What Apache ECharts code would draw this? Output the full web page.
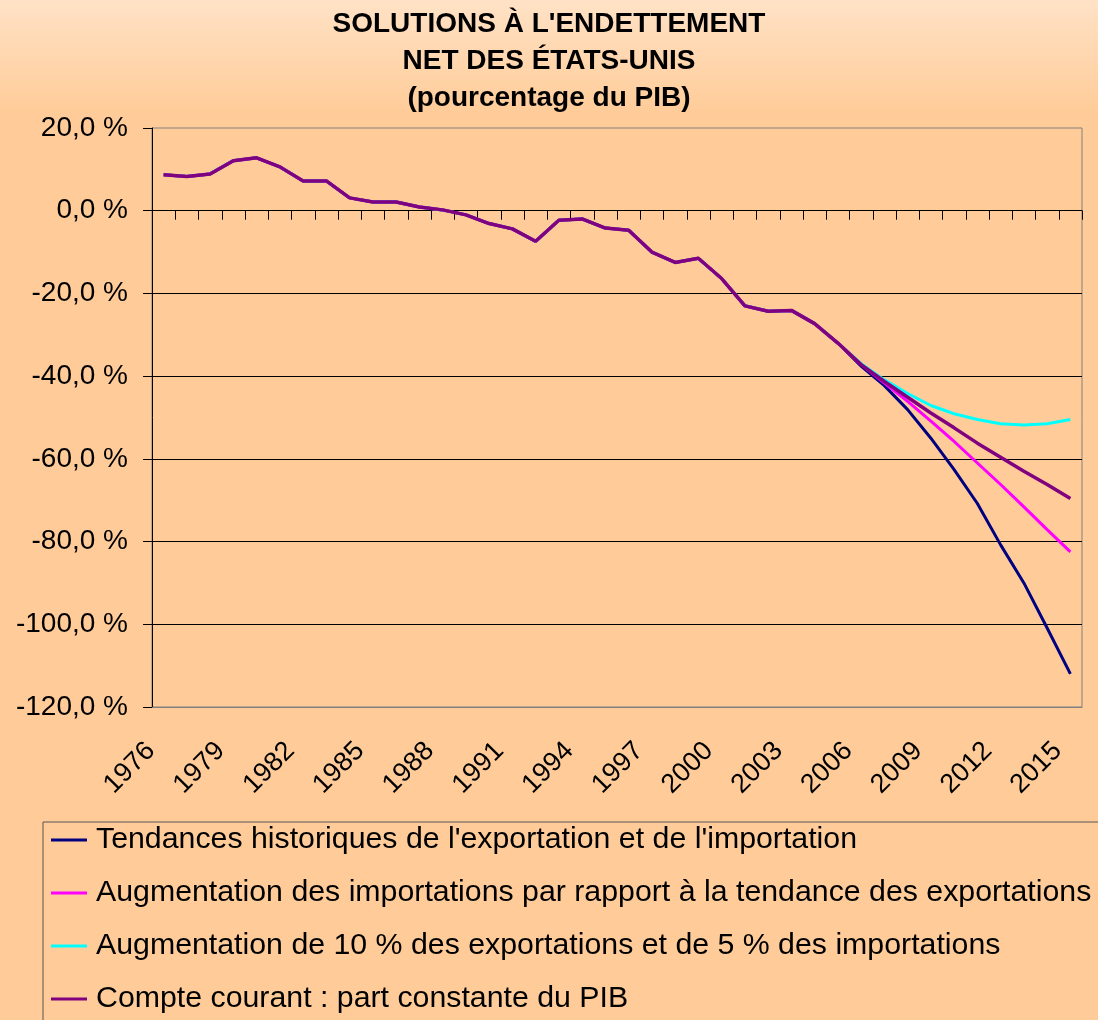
<!DOCTYPE html>
<html>
<head>
<meta charset="utf-8">
<title>Solutions à l'endettement net des États-Unis</title>
<script src="https://cdn.jsdelivr.net/npm/echarts@6/dist/echarts.min.js"></script>
<style>
    html, body { margin: 0; padding: 0; background: #FFCC99; }
    #chart { width: 1098px; height: 1020px; }
</style>
</head>
<body>
<div id="chart"></div>
<script>
// années (axe X)
var years = ['1976','1977','1978','1979','1980','1981','1982','1983','1984','1985',
             '1986','1987','1988','1989','1990','1991','1992','1993','1994','1995',
             '1996','1997','1998','1999','2000','2001','2002','2003','2004','2005',
             '2006','2007','2008','2009','2010','2011','2012','2013','2014','2015'];

// historique commun 1976-2005 (% du PIB)
var historique = [8.7, 8.3, 8.9, 12.1, 12.8, 10.6, 7.2, 7.2, 3.1, 2.1,
                  2.1, 0.9, 0.2, -1.0, -3.1, -4.4, -7.4, -2.3, -2.0, -4.2,
                  -4.7, -10.0, -12.5, -11.5, -16.4, -23.0, -24.3, -24.1, -27.3, -32.0];

// projections 2006-2015
var tendances    = [-37.6, -42.3, -48.1, -55.0, -62.6, -70.8, -80.8, -90.0, -100.9, -112.0];
var importations = [-37.2, -41.7, -46.1, -50.9, -55.8, -61.0, -66.2, -71.6, -77.1, -82.5];
var exportations = [-37.0, -40.9, -44.2, -47.1, -49.1, -50.5, -51.5, -51.8, -51.5, -50.5];
var compte       = [-37.2, -41.3, -45.1, -48.9, -52.5, -56.2, -59.6, -63.0, -66.2, -69.6];

var names = [
    "Tendances historiques de l'exportation et de l'importation",
    "Augmentation des importations par rapport à la tendance des exportations",
    "Augmentation de 10 % des exportations et de 5 % des importations",
    "Compte courant : part constante du PIB"
];
var colors = ['#000080', '#FF00FF', '#00FFFF', '#800080'];
var projections = [tendances, importations, exportations, compte];

var myChart = echarts.init(document.getElementById('chart'));

var series = [];
for (var i = 0; i < projections.length; i++) {
    series.push({
        name: names[i],
        type: 'line',
        xAxisIndex: 0,
        data: historique.concat(projections[i]),
        symbol: 'none',
        lineStyle: { color: colors[i], width: i === 3 ? 3.5 : 3 },
        itemStyle: { color: colors[i] },
        z: 2 + i
    });
}

var option = {
    animation: false,
    backgroundColor: {
        type: 'linear', x: 0, y: 0, x2: 0, y2: 1,
        colorStops: [
            { offset: 0, color: '#FFE2C6' },
            { offset: 0.11, color: '#FFCC99' },
            { offset: 1, color: '#FFCC99' }
        ]
    },
    title: {
        text: "SOLUTIONS À L'ENDETTEMENT\nNET DES ÉTATS-UNIS\n(pourcentage du PIB)",
        left: 'center',
        top: 6,
        padding: 0,
        textStyle: {
            fontFamily: 'Liberation Sans, Arial, sans-serif',
            fontWeight: 'bold',
            fontSize: 28,
            lineHeight: 37,
            color: '#000'
        }
    },
    // légende : une entrée par ligne (largeur limitée)
    legend: {
        orient: 'horizontal',
        left: 43,
        top: 822,
        width: 1010,
        padding: [3, 40, 40, 8],
        itemGap: 23,
        itemWidth: 36,
        itemHeight: 3,
        icon: 'rect',
        borderColor: '#555',
        borderWidth: 1,
        textStyle: {
            fontFamily: 'Liberation Sans, Arial, sans-serif',
            fontSize: 30.3,
            lineHeight: 30,
            color: '#000',
            padding: [0, 0, 0, 4]
        },
        data: names
    },
    grid: {
        left: 152,
        right: 16,
        top: 128,
        bottom: 313,
        show: true,
        borderColor: '#808080',
        borderWidth: 1,
        backgroundColor: 'transparent'
    },
    xAxis: [{
        // libellés en bas
        type: 'category',
        data: years,
        position: 'bottom',
        boundaryGap: true,
        axisLine: { onZero: false, lineStyle: { color: '#808080' } },
        axisTick: { show: false },
        axisLabel: {
            interval: 2,
            rotate: 45,
            margin: 27,
            padding: [0, 18, 0, 0],
            fontFamily: 'Liberation Sans, Arial, sans-serif',
            fontSize: 27,
            color: '#000'
        },
        splitLine: { show: false }
    }, {
        // ligne du zéro avec graduations
        type: 'category',
        data: years,
        position: 'bottom',
        boundaryGap: true,
        axisLine: { onZero: true, onZeroAxisIndex: 0, lineStyle: { color: '#000', width: 1 } },
        axisTick: { show: true, interval: 0, length: 9, lineStyle: { color: '#000' } },
        axisLabel: { show: false },
        splitLine: { show: false }
    }],
    yAxis: [{
        type: 'value',
        min: -120,
        max: 20,
        interval: 20,
        axisLine: { show: true, lineStyle: { color: '#000' } },
        axisTick: { show: true, length: 9, lineStyle: { color: '#000' } },
        axisLabel: {
            margin: 24,
            fontFamily: 'Liberation Sans, Arial, sans-serif',
            fontSize: 28,
            color: '#000',
            formatter: function (v) {
                return v.toFixed(1).replace('.', ',') + ' %';
            }
        },
        splitLine: {
            show: true,
            showMinLine: false,
            showMaxLine: false,
            lineStyle: { color: '#000', width: 1 }
        }
    }],
    series: series
};

myChart.setOption(option);
</script>
</body>
</html>
